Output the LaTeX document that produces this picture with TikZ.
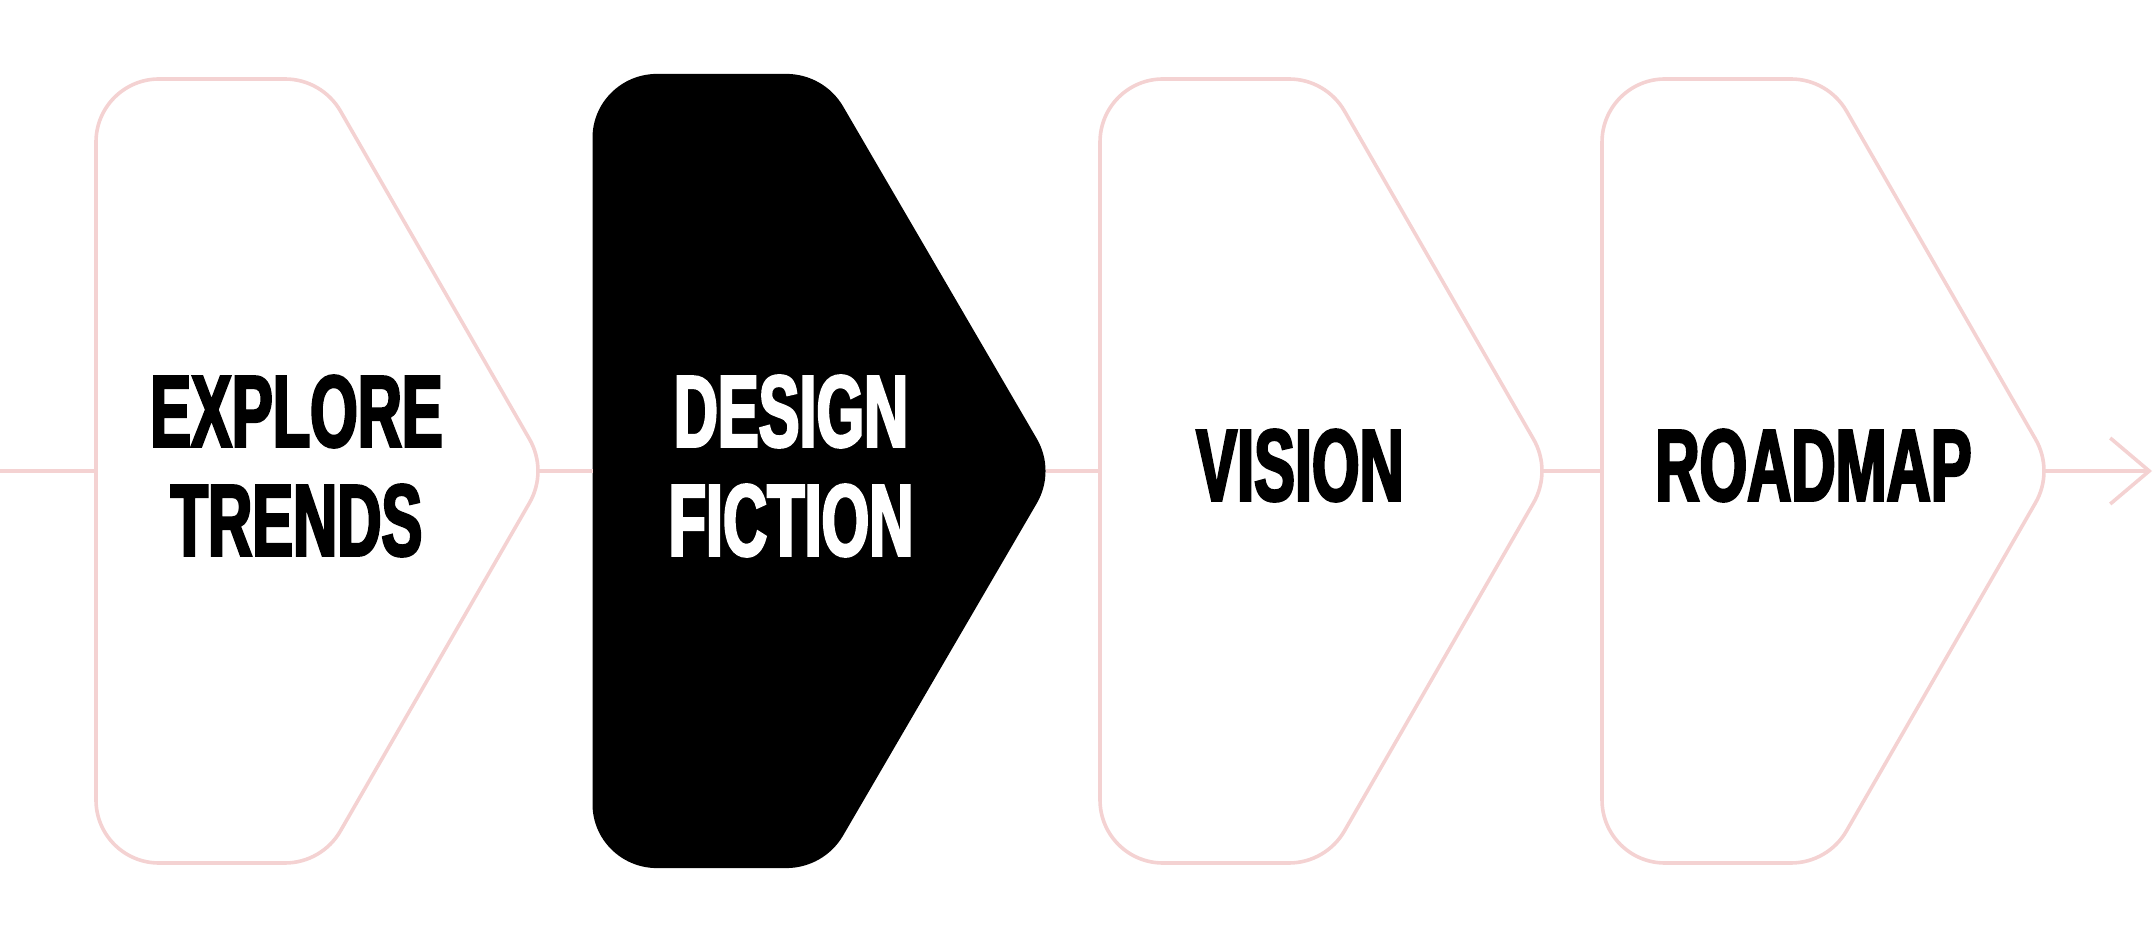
\documentclass[tikz,border=0pt]{standalone}
\usepackage{fontspec}
\setmainfont{Liberation Sans}
\newfontfamily\stagefont{Liberation Sans Bold}[FakeStretch=0.6, FakeBold=2.5]
\usetikzlibrary{arrows.meta}

\definecolor{blush}{RGB}{244,210,210}

\begin{document}
\begin{tikzpicture}
		[x=0.5pt, y=0.5pt,
		flow/.style={draw=blush, line width=1.8pt},
		stage path/.style={draw=blush, line width=1.8pt},
		title/.style={font=\stagefont\fontsize{51}{54.5}\selectfont, align=center, inner sep=0pt},
		stage/.pic={
			\path[stage path] (0,0) -- (0,329) arc[start angle=180, end angle=90, radius=63]
				-- (189,392) arc[start angle=90, end angle=30, radius=64]
				-- (433.4,32) arc[start angle=30, end angle=-30, radius=64]
				-- (244.4,-360) arc[start angle=-30, end angle=-90, radius=64]
				-- (63,-392) arc[start angle=270, end angle=180, radius=63] -- cycle;
			\coordinate (-w) at (0,0);
			\coordinate (-e) at (442,0);
		}]
		\useasboundingbox (0,0) rectangle (2155,942);

		\coordinate (start) at (0,471);
		\coordinate (finish) at (2152,471);

		\pic (explore) at (96,471) {stage};
		\pic[xscale=1.025, yscale=1.013, stage path/.style={fill=black}] (design) at (592.5,471) {stage};
		\pic (vision) at (1100,471) {stage};
		\pic (roadmap) at (1602,471) {stage};

		\node[title] (exploretext) at ([shift={(200.5,5)}]explore-w) {EXPLORE\\TRENDS};
		\node[title, text=white] (designtext) at ([shift={(198.5,5)}]design-w) {DESIGN\\FICTION};
		\node[title] (visiontext) at ([shift={(200,5.5)}]vision-w) {VISION};
		\node[title] (roadmaptext) at ([shift={(211.5,5.5)}]roadmap-w) {ROADMAP};

		\draw[flow] (start) -- (explore-w);
		\draw[flow] (explore-e) -- (design-w);
		\draw[flow] (design-e) -- (vision-w);
		\draw[flow] (vision-e) -- (roadmap-w);
		\draw[flow, -{Straight Barb[length=19.5pt, width=33pt]}] (roadmap-e) -- (finish);
	\end{tikzpicture}
\end{document}
